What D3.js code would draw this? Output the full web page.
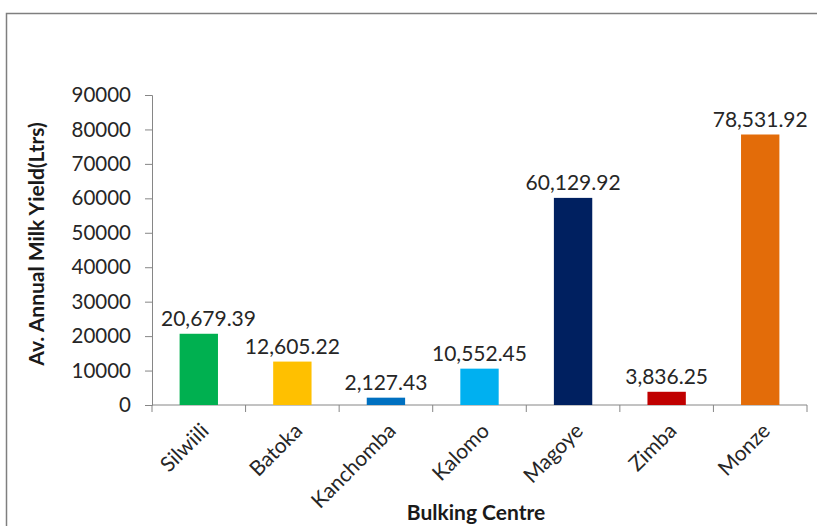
<!DOCTYPE html>
<html>
<head>
<meta charset="utf-8">
<script src="https://cdn.jsdelivr.net/npm/d3@7"></script>
<style>
  html, body { margin: 0; padding: 0; background: #fff; }
  svg { display: block; }
</style>
</head>
<body>
<svg id="chart" width="817" height="526"></svg>
<script>
// Average annual milk yield per bulking centre
const centres = ["Silwiili", "Batoka", "Kanchomba", "Kalomo", "Magoye", "Zimba", "Monze"];
const yieldLitres = [20679.39, 12605.22, 2127.43, 10552.45, 60129.92, 3836.25, 78531.92];
const barColors = ["#00b050", "#ffc000", "#0070c0", "#00b0f0", "#002060", "#c00000", "#e36c09"];
const yTicks = [0, 10000, 20000, 30000, 40000, 50000, 60000, 70000, 80000, 90000];

const svg = d3.select("#chart");
const W = 817, H = 526;
const plot = { left: 152, right: 807, top: 95, bottom: 405 };
const font = "Lato, 'Open Sans', sans-serif";

// outer frame
svg.append("rect")
  .attr("x", 6.5).attr("y", 13.5)
  .attr("width", W).attr("height", H)
  .attr("fill", "none").attr("stroke", "#7f7f7f").attr("stroke-width", 1.5);

const x = d3.scaleBand().domain(centres).range([plot.left, plot.right]).paddingInner(0.59).paddingOuter(0.295);
const xTicksScale = d3.scaleBand().domain(centres).range([plot.left, plot.right]);
const y = d3.scaleLinear().domain([0, 90000]).range([plot.bottom, plot.top]);

// y axis
const yAxis = svg.append("g")
  .attr("transform", `translate(${plot.left},0)`)
  .call(d3.axisLeft(y).tickValues(yTicks).tickFormat(d3.format("d")).tickSizeInner(7).tickSizeOuter(7).tickPadding(14));
yAxis.select(".domain").attr("stroke", "#868686");
yAxis.selectAll(".tick line").attr("stroke", "#868686");
yAxis.selectAll(".tick text").attr("font-family", font).attr("font-size", 20.5).attr("fill", "#262626");

// x axis: ticks at band boundaries
const xg = svg.append("g").attr("transform", `translate(0,${plot.bottom})`);
xg.append("line").attr("x1", plot.left).attr("x2", plot.right).attr("y1", 0).attr("y2", 0).attr("stroke", "#868686");
const bounds = centres.map(c => xTicksScale(c)).concat([plot.right]);
xg.selectAll("line.tk").data(bounds).join("line").attr("class", "tk")
  .attr("x1", d => d).attr("x2", d => d).attr("y1", 0).attr("y2", 7).attr("stroke", "#868686");
xg.selectAll("text.lbl").data(centres).join("text").attr("class", "lbl")
  .attr("transform", d => `translate(${xTicksScale(d) + xTicksScale.bandwidth() / 2 + 6},${22}) rotate(-45)`)
  .attr("text-anchor", "end")
  .attr("dy", "0.35em")
  .attr("font-family", font).attr("font-size", 21).attr("fill", "#262626")
  .text(d => d);

// bars
svg.append("g").selectAll("rect").data(centres).join("rect")
  .attr("x", d => x(d))
  .attr("y", (d, i) => y(yieldLitres[i]))
  .attr("width", x.bandwidth())
  .attr("height", (d, i) => y(0) - y(yieldLitres[i]))
  .attr("fill", (d, i) => barColors[i]);

// value labels, kept clear of the y axis
const fmt = d3.format(",.2f");
svg.append("g").selectAll("text").data(centres).join("text")
  .attr("y", (d, i) => y(yieldLitres[i]) - 8)
  .attr("text-anchor", "middle")
  .attr("font-family", font).attr("font-size", 21).attr("fill", "#262626")
  .text((d, i) => fmt(yieldLitres[i]))
  .attr("x", function (d) {
    const cx = x(d) + x.bandwidth() / 2;
    const half = this.getComputedTextLength() / 2;
    return Math.max(cx, plot.left + 9 + half);
  });

// axis titles
svg.append("text")
  .attr("transform", `translate(44,${(plot.top + plot.bottom) / 2 - 6}) rotate(-90)`)
  .attr("text-anchor", "middle")
  .attr("font-family", font).attr("font-weight", "bold").attr("font-size", 21).attr("fill", "#1a1a1a")
  .text("Av. Annual Milk Yield(Ltrs)");

svg.append("text")
  .attr("x", 476).attr("y", 520)
  .attr("text-anchor", "middle")
  .attr("font-family", font).attr("font-weight", "bold").attr("font-size", 21).attr("fill", "#1a1a1a")
  .text("Bulking Centre");
</script>
</body>
</html>
